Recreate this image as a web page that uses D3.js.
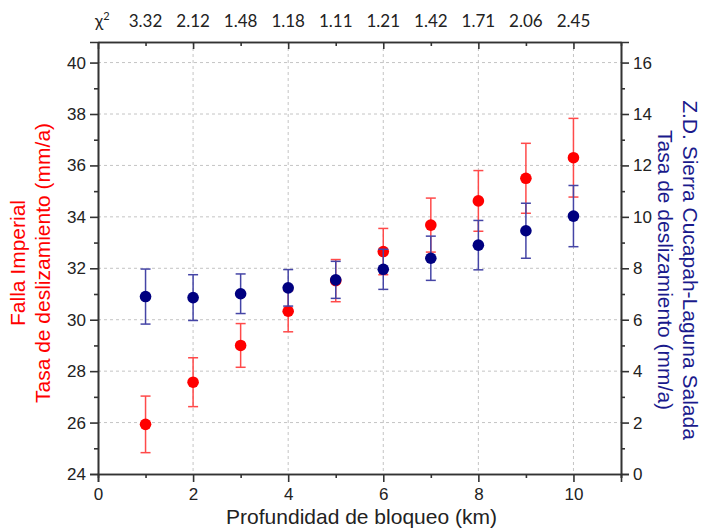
<!DOCTYPE html>
<html lang="es">
<head>
<meta charset="UTF-8">
<title>Tasa de deslizamiento vs profundidad de bloqueo</title>
<script src="https://d3js.org/d3.v7.min.js"></script>
<style>
  body { margin: 0; background: #fff; }
  .axis path, .axis line { stroke: #333; stroke-width: 1.6; }
  .axis text { font-family: "Liberation Sans", Arial, sans-serif; font-size: 17px; fill: #222; }
  .grid line { stroke: #c4c4c4; stroke-dasharray: 3,3; stroke-width: 1; }
</style>
</head>
<body>
<svg id="chart" width="703" height="531"></svg>
<script>
// profundidad de bloqueo (km)
const depth = [1, 2, 3, 4, 5, 6, 7, 8, 9, 10];
// chi cuadrado por profundidad
const chi2 = ["3.32", "2.12", "1.48", "1.18", "1.11", "1.21", "1.42", "1.71", "2.06", "2.45"];
// Falla Imperial (eje izq, mm/a)
const imperial = [25.93, 27.57, 29.0, 30.33, 31.52, 32.65, 33.68, 34.62, 35.5, 36.3];
const imperialErr = [1.1, 0.95, 0.85, 0.8, 0.82, 0.9, 1.05, 1.18, 1.36, 1.53];
// Z.D. Sierra Cucapah-Laguna Salada (eje der, mm/a)
const cucapah = [6.9, 6.86, 7.01, 7.24, 7.55, 7.96, 8.39, 8.9, 9.46, 10.03];
const cucapahErr = [1.07, 0.89, 0.77, 0.71, 0.72, 0.78, 0.86, 0.96, 1.07, 1.19];

const xMajor = [0, 2, 4, 6, 8, 10];
const xMinor = [1, 3, 5, 7, 9, 11];
const yLeftMajor = [24, 26, 28, 30, 32, 34, 36, 38, 40];
const yLeftMinor = [25, 27, 29, 31, 33, 35, 37, 39];
const yRightMajor = [0, 2, 4, 6, 8, 10, 12, 14, 16];
const yRightMinor = [1, 3, 5, 7, 9, 11, 13, 15];

const m = { left: 98, right: 621, top: 42, bottom: 474 };
const svg = d3.select("#chart");

const x = d3.scaleLinear().domain([0, 11]).range([m.left, m.right]);
const yL = d3.scaleLinear().domain([24, 40.8]).range([m.bottom, m.top]);
const yR = d3.scaleLinear().domain([0, 16.8]).range([m.bottom, m.top]);

// grid
const grid = svg.append("g").attr("class", "grid");
grid.selectAll(".gx").data(xMajor.filter(d => d > 0)).enter().append("line")
  .attr("x1", d => x(d)).attr("x2", d => x(d))
  .attr("y1", m.top).attr("y2", m.bottom);
grid.selectAll(".gy").data(yLeftMajor.filter(d => d > 24)).enter().append("line")
  .attr("x1", m.left).attr("x2", m.right)
  .attr("y1", d => yL(d)).attr("y2", d => yL(d));

// axes
svg.append("g").attr("class", "axis")
  .attr("transform", `translate(0,${m.bottom})`)
  .call(d3.axisBottom(x).tickValues(xMajor).tickSize(8).tickPadding(6).tickFormat(d3.format("d")));
svg.append("g").attr("class", "axis")
  .attr("transform", `translate(0,${m.bottom})`)
  .call(d3.axisBottom(x).tickValues(xMinor).tickSize(4).tickFormat(""));

svg.append("g").attr("class", "axis")
  .attr("transform", `translate(0,${m.top})`)
  .call(d3.axisTop(x).tickValues(xMajor).tickSizeInner(-7).tickSizeOuter(0).tickFormat(""));
svg.append("g").attr("class", "axis")
  .attr("transform", `translate(0,${m.top})`)
  .call(d3.axisTop(x).tickValues(xMinor).tickSizeInner(-4).tickSizeOuter(0).tickFormat(""));

svg.append("g").attr("class", "axis")
  .attr("transform", `translate(${m.left},0)`)
  .call(d3.axisLeft(yL).tickValues(yLeftMajor).tickSize(8).tickPadding(4).tickFormat(d3.format("d")));
svg.append("g").attr("class", "axis")
  .attr("transform", `translate(${m.left},0)`)
  .call(d3.axisLeft(yL).tickValues(yLeftMinor).tickSize(4).tickSizeOuter(0).tickFormat(""));

svg.append("g").attr("class", "axis")
  .attr("transform", `translate(${m.right},0)`)
  .call(d3.axisRight(yR).tickValues(yRightMajor).tickSize(8).tickPadding(4).tickFormat(d3.format("d")));
svg.append("g").attr("class", "axis")
  .attr("transform", `translate(${m.right},0)`)
  .call(d3.axisRight(yR).tickValues(yRightMinor).tickSize(4).tickSizeOuter(0).tickFormat(""));

// series
function drawSeries(vals, errs, y, barColor, dotColor) {
  const g = svg.append("g");
  const pts = depth.map((d, i) => ({ d, v: vals[i], e: errs[i] }));
  g.selectAll(".bar").data(pts).enter().append("line")
    .attr("x1", p => x(p.d)).attr("x2", p => x(p.d))
    .attr("y1", p => y(p.v - p.e)).attr("y2", p => y(p.v + p.e))
    .attr("stroke", barColor).attr("stroke-width", 1.5);
  ["lo", "hi"].forEach(k => {
    g.selectAll(".cap-" + k).data(pts).enter().append("line")
      .attr("x1", p => x(p.d) - 5).attr("x2", p => x(p.d) + 5)
      .attr("y1", p => y(k === "lo" ? p.v - p.e : p.v + p.e))
      .attr("y2", p => y(k === "lo" ? p.v - p.e : p.v + p.e))
      .attr("stroke", barColor).attr("stroke-width", 1.5);
  });
  g.selectAll("circle").data(pts).enter().append("circle")
    .attr("cx", p => x(p.d)).attr("cy", p => y(p.v))
    .attr("r", 5.8).attr("fill", dotColor);
}
drawSeries(imperial, imperialErr, yL, "#ff4a4a", "#ff0000");
drawSeries(cucapah, cucapahErr, yR, "#4545a6", "#000080");

// chi^2 labels
const font = "'Liberation Sans', Arial, sans-serif";
const chiFont = "Lato, 'Open Sans', sans-serif";
const chiText = svg.append("text")
  .attr("x", x(0) - 3).attr("y", 27)
  .attr("font-family", chiFont).attr("font-size", 17).attr("fill", "#222");
chiText.append("tspan").text("χ");
chiText.append("tspan").attr("dy", -7).attr("font-size", 11).text("2");
svg.selectAll(".chi").data(chi2).enter().append("text")
  .attr("x", (d, i) => x(depth[i])).attr("y", 27)
  .attr("text-anchor", "middle")
  .attr("font-family", chiFont).attr("font-size", 17).attr("fill", "#222")
  .text(d => d);

// axis titles
svg.append("text")
  .attr("x", (m.left + m.right) / 2 + 2).attr("y", 524)
  .attr("text-anchor", "middle").attr("font-family", font).attr("font-size", 21).attr("fill", "#222")
  .text("Profundidad de bloqueo (km)");

const leftTitle = svg.append("text")
  .attr("transform", `translate(25,${(m.top + m.bottom) / 2 + 5}) rotate(-90)`)
  .attr("text-anchor", "middle").attr("font-family", font).attr("font-size", 21).attr("fill", "#ff0000");
leftTitle.append("tspan").attr("x", 0).attr("dy", 0).text("Falla Imperial");
leftTitle.append("tspan").attr("x", 0).attr("dy", 25).text("Tasa de deslizamiento (mm/a)");

const rightTitle = svg.append("text")
  .attr("transform", `translate(683,${(m.top + m.bottom) / 2 + 12}) rotate(90)`)
  .attr("text-anchor", "middle").attr("font-family", font).attr("font-size", 21).attr("fill", "#1a1a8c");
rightTitle.append("tspan").attr("x", 0).attr("dy", 0).text("Z.D. Sierra Cucapah-Laguna Salada");
rightTitle.append("tspan").attr("x", 0).attr("dy", 25).text("Tasa de deslizamiento (mm/a)");
</script>
</body>
</html>
